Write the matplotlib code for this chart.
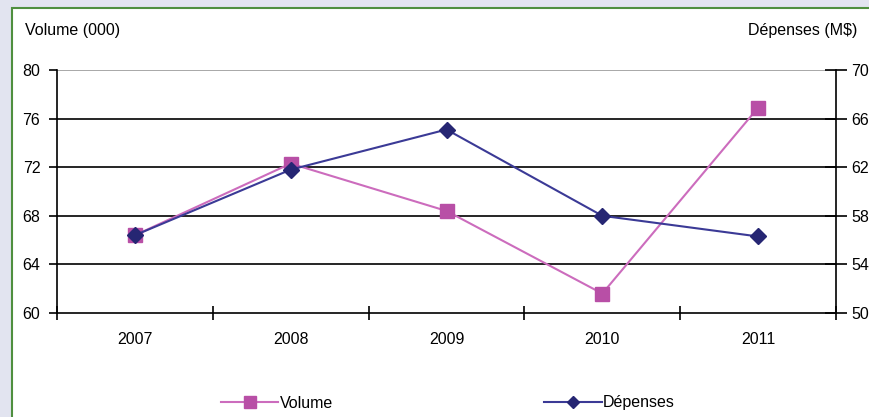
import matplotlib.pyplot as plt
from matplotlib.patches import Rectangle
from matplotlib.ticker import FixedLocator

# Données
annees = ["2007", "2008", "2009", "2010", "2011"]
volume = [66.4, 72.3, 68.4, 61.6, 76.9]       # Volume (000)
depenses = [56.4, 61.8, 65.1, 58.0, 56.3]     # Dépenses (M$)

plt.rcParams["font.family"] = ["Liberation Sans Narrow", "Liberation Sans", "DejaVu Sans"]
plt.rcParams["font.size"] = 11.5

fig = plt.figure(figsize=(8.69, 4.17), dpi=100)
fig.patch.set_facecolor("#e2e4f0")

# Cadre blanc avec bordure verte (sous les axes)
fig.patches.append(Rectangle((12 / 869, -0.1), 1.2, 1 - 8 / 417 + 0.1,
                             transform=fig.transFigure, facecolor="white",
                             edgecolor="#4f8f3f", linewidth=1.5, zorder=-10))

ax = fig.add_axes([57 / 869, 1 - 313 / 417, (836 - 57) / 869, (313 - 70) / 417])
ax.set_facecolor("none")
ax2 = ax.twinx()
ax2.set_facecolor("none")

x = list(range(len(annees)))
ax.plot(x, volume, color="#cc6cbd", linewidth=1.5, marker="s", markersize=10,
        markerfacecolor="#b84fa6", markeredgecolor="#b84fa6", label="Volume", zorder=3)
ax2.plot(x, depenses, color="#3b3a96", linewidth=1.5, marker="D", markersize=8,
         markerfacecolor="#262673", markeredgecolor="#262673", label="Dépenses", zorder=4)

ax.set_xlim(-0.5, 4.5)
ax.set_ylim(60, 80)
ax2.set_ylim(50, 70)
ax.set_yticks([60, 64, 68, 72, 76, 80])
ax2.set_yticks([50, 54, 58, 62, 66, 70])

# Quadrillage horizontal
for v in [64, 68, 72, 76]:
    ax.axhline(v, color="black", linewidth=1.2, zorder=1)
ax.axhline(80, color="#999999", linewidth=1.2, zorder=1)

ax.set_xticks(x)
ax.set_xticklabels(annees)
ax.xaxis.set_minor_locator(FixedLocator([-0.5, 0.5, 1.5, 2.5, 3.5, 4.5]))
ax.tick_params(axis="x", which="major", length=0, pad=14)
ax.tick_params(axis="x", which="minor", length=10, direction="inout", width=1.2)
ax.tick_params(axis="y", length=6, width=1.2, direction="out", pad=6)
ax2.tick_params(axis="y", length=16, width=1.2, direction="inout", pad=3)

for a in (ax, ax2):
    a.spines["top"].set_visible(False)
    for s in ("left", "right", "bottom"):
        a.spines[s].set_linewidth(1.2)
        a.spines[s].set_color("black")
ax.spines["right"].set_visible(False)
ax2.spines["left"].set_visible(False)
ax2.spines["bottom"].set_visible(False)

fig.text(25 / 869, 1 - 30 / 417, "Volume (000)", ha="left", va="center")
fig.text(748 / 869, 1 - 30 / 417, "Dépenses (M$)", ha="left", va="center")

h1, l1 = ax.get_legend_handles_labels()
h2, l2 = ax2.get_legend_handles_labels()
fig.legend(h1 + h2, l1 + l2, loc="center", bbox_to_anchor=(448 / 869, 1 - 403 / 417),
           ncol=2, frameon=False, handlelength=3.6, columnspacing=13.2,
           handletextpad=0.1, markerscale=0.8)

fig.savefig("out.png", dpi=100, facecolor=fig.get_facecolor())
